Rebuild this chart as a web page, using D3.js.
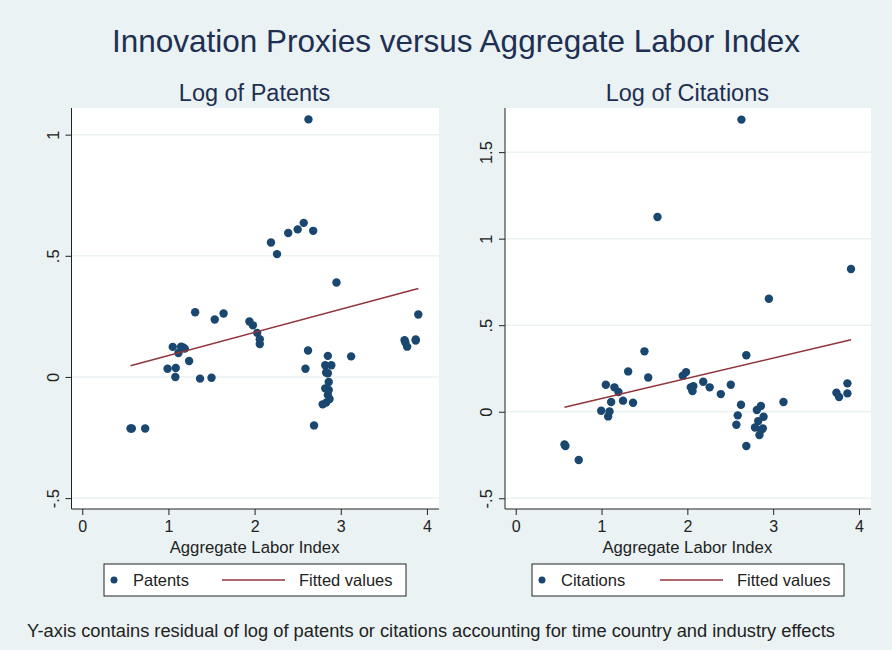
<!DOCTYPE html>
<html>
<head>
<meta charset="utf-8">
<script src="https://cdn.jsdelivr.net/npm/d3@7"></script>
<style>
  body { margin: 0; background: #eaf2f3; }
  text { font-family: 'Liberation Sans', Arial, sans-serif; }
</style>
</head>
<body>
<div id="chart"></div>
<script>
// residuals
const patentsX = [0.56, 0.575, 0.73, 0.99, 1.05, 1.08, 1.085, 1.116, 1.147, 1.17, 1.19, 1.24, 1.31, 1.367, 1.5, 1.537, 1.64,
  1.94, 1.98, 2.03, 2.06, 2.06, 2.19, 2.26, 2.39, 2.5, 2.57, 2.68, 2.625, 2.62, 2.59, 2.69, 2.95,
  2.85, 2.82, 2.89, 2.83, 2.85, 2.86, 2.82, 2.86, 2.85, 2.87, 2.83, 2.79, 3.12, 3.74, 3.75, 3.77, 3.87, 3.87, 3.9]
const patentsY = [-0.213, -0.213, -0.213, 0.034, 0.124, 0.0, 0.037, 0.099, 0.125, 0.122, 0.117, 0.066, 0.267, -0.007, -0.003, 0.237, 0.262,
  0.229, 0.213, 0.182, 0.156, 0.136, 0.555, 0.507, 0.594, 0.609, 0.636, 0.603, 1.063, 0.109, 0.034, -0.2, 0.39,
  0.087, 0.048, 0.048, 0.018, 0.015, -0.021, -0.047, -0.054, -0.074, -0.091, -0.106, -0.113, 0.085, 0.152, 0.142, 0.125, 0.15, 0.155, 0.258]

const citationsX = [0.568, 0.579, 0.734, 0.996, 1.05, 1.093, 1.077, 1.112, 1.15, 1.197, 1.25, 1.31, 1.367, 1.5, 1.544, 1.652,
  1.946, 1.985, 2.04, 2.07, 2.06, 2.185, 2.26, 2.39, 2.506, 2.63, 2.625, 2.587, 2.571, 2.687, 2.687, 2.95,
  2.81, 2.857, 2.826, 2.888, 2.788, 2.88, 2.84, 2.86, 3.12, 3.737, 3.768, 3.865, 3.865, 3.907]
const citationsY = [-0.189, -0.198, -0.279, 0.006, 0.156, 0.002, -0.027, 0.056, 0.141, 0.114, 0.064, 0.233, 0.052, 0.349, 0.198, 1.125,
  0.208, 0.229, 0.141, 0.148, 0.119, 0.173, 0.141, 0.102, 0.156, 1.688, 0.04, -0.021, -0.075, 0.326, -0.198, 0.653,
  0.01, 0.033, -0.054, -0.029, -0.091, -0.096, -0.135, -0.106, 0.056, 0.11, 0.085, 0.164, 0.106, 0.825]

// fitted lines: [intercept, slope]
const patentsFit = [-0.0068, 0.0953]
const citationsFit = [-0.0406, 0.1167]

const xTicks = [0, 1, 2, 3, 4]
const patentsYTicks = [-0.5, 0, 0.5, 1]
const citationsYTicks = [-0.5, 0, 0.5, 1, 1.5]
const fmt = v => (v === 0 ? '0' : String(v).replace(/^(-?)0\./, '$1.'))

const W = 892, H = 650
const navy = '#1a476f', maroon = '#90353b', bg = '#eaf2f3'

const svg = d3.select('#chart').append('svg')
  .attr('width', W).attr('height', H)

svg.append('rect').attr('width', W).attr('height', H).attr('fill', bg)

svg.append('text')
  .attr('x', 456).attr('y', 52)
  .attr('text-anchor', 'middle')
  .attr('font-size', 31.5)
  .attr('fill', '#1e2f52')
  .text('Innovation Proxies versus Aggregate Labor Index')

function panel(opts) {
  const g = svg.append('g')
  const x = d3.scaleLinear().domain([-0.125, 4.14]).range([opts.left, opts.right])
  const y = d3.scaleLinear().domain(opts.yDomain).range([509, 108])

  g.append('text')
    .attr('x', (x(0) + x(4)) / 2).attr('y', 101)
    .attr('text-anchor', 'middle')
    .attr('font-size', 23.5)
    .attr('fill', '#1e2f52')
    .text(opts.title)

  g.append('rect')
    .attr('x', opts.left).attr('y', 108)
    .attr('width', opts.right - opts.left).attr('height', 401)
    .attr('fill', 'white')

  // grid
  g.selectAll('.grid')
    .data(opts.yTicks)
    .enter()
    .append('line')
    .attr('x1', opts.left).attr('x2', opts.right)
    .attr('y1', d => y(d)).attr('y2', d => y(d))
    .attr('stroke', bg).attr('stroke-width', 1.5)

  const yAxis = d3.axisLeft(y).tickValues(opts.yTicks).tickSize(6).tickFormat(fmt)
  const ya = g.append('g')
    .attr('transform', 'translate(' + opts.left + ',0)')
    .call(yAxis)
  ya.select('.domain').attr('stroke', '#222').attr('d', 'M0,108V509')
  ya.selectAll('.tick line').attr('stroke', '#222')
  ya.selectAll('.tick text')
    .attr('font-size', 16.5)
    .attr('fill', '#222')
    .attr('text-anchor', 'middle')
    .attr('dy', null)
    .attr('x', null)
    .attr('transform', d => 'translate(-19,0) rotate(-90)')
    .attr('y', 0)
    .attr('dominant-baseline', 'central')

  const xAxis = d3.axisBottom(x).tickValues(xTicks).tickSize(6).tickFormat(d3.format('d'))
  const xa = g.append('g')
    .attr('transform', 'translate(0,509)')
    .call(xAxis)
  xa.select('.domain').attr('stroke', '#222').attr('d', 'M' + opts.left + ',0H' + opts.right)
  xa.selectAll('.tick line').attr('stroke', '#222')
  xa.selectAll('.tick text').attr('font-size', 16).attr('fill', '#222').attr('y', 12)

  g.append('text')
    .attr('x', (x(0) + x(4)) / 2).attr('y', 553)
    .attr('text-anchor', 'middle')
    .attr('font-size', 16.7)
    .attr('fill', '#222')
    .text('Aggregate Labor Index')

  const pts = opts.xs.map((v, i) => ({ x: v, y: opts.ys[i] }))
  g.selectAll('circle')
    .data(pts)
    .enter()
    .append('circle')
    .attr('cx', d => x(d.x))
    .attr('cy', d => y(d.y))
    .attr('r', 4.2)
    .attr('fill', navy)

  const xmin = d3.min(opts.xs), xmax = d3.max(opts.xs)
  const line = d3.line().x(d => x(d)).y(d => y(opts.fit[0] + opts.fit[1] * d))
  g.append('path')
    .datum([xmin, xmax])
    .attr('d', line)
    .attr('stroke', maroon)
    .attr('stroke-width', 1.5)
    .attr('fill', 'none')

  // legend
  const L = opts.legend
  g.append('rect')
    .attr('x', L.x).attr('y', 564)
    .attr('width', L.w).attr('height', 32)
    .attr('fill', 'white').attr('stroke', '#222').attr('stroke-width', 1)
  g.append('circle').attr('cx', L.x + 10).attr('cy', 580).attr('r', 3.5).attr('fill', navy)
  g.append('text').attr('x', L.x + 29).attr('y', 586)
    .attr('font-size', 16.5).attr('fill', '#222').text(opts.name)
  g.append('line')
    .attr('x1', L.x + L.lineX).attr('x2', L.x + L.lineX + 63)
    .attr('y1', 580).attr('y2', 580)
    .attr('stroke', maroon).attr('stroke-width', 1.5)
  g.append('text').attr('x', L.x + L.lineX + 77).attr('y', 586)
    .attr('font-size', 16.5).attr('fill', '#222').text('Fitted values')
}

panel({
  left: 71.5, right: 439, yDomain: [-0.545, 1.11], yTicks: patentsYTicks,
  title: 'Log of Patents', xs: patentsX, ys: patentsY, fit: patentsFit,
  name: 'Patents', legend: { x: 104, w: 302, lineX: 118 }
})
panel({
  left: 505, right: 871, yDomain: [-0.562, 1.755], yTicks: citationsYTicks,
  title: 'Log of Citations', xs: citationsX, ys: citationsY, fit: citationsFit,
  name: 'Citations', legend: { x: 532, w: 312, lineX: 128 }
})

svg.append('text')
  .attr('x', 27).attr('y', 637)
  .attr('font-size', 18.3)
  .attr('fill', '#222')
  .text('Y-axis contains residual of log of patents or citations accounting for time country and industry effects')
</script>
</body>
</html>
